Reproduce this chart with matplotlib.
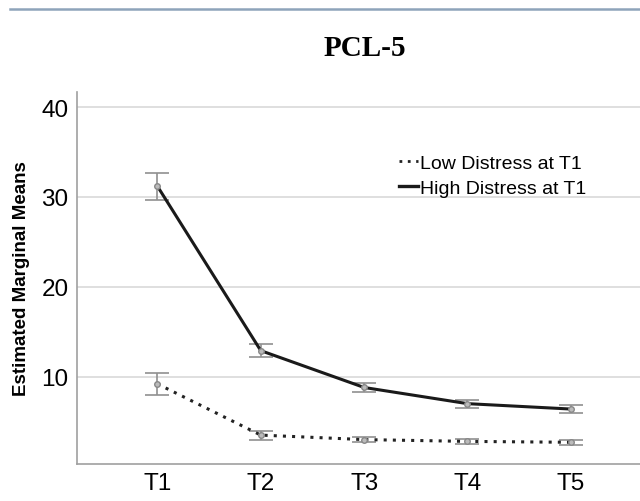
import matplotlib.pyplot as plt
from matplotlib.lines import Line2D

# Data
times = ['T1', 'T2', 'T3', 'T4', 'T5']
low_mean = [9.2, 3.5, 3.0, 2.8, 2.7]
low_err = [1.25, 0.5, 0.3, 0.3, 0.25]
high_mean = [31.2, 12.9, 8.8, 7.0, 6.4]
high_err = [1.5, 0.75, 0.55, 0.45, 0.4]
yticks = [10, 20, 30, 40]

x = list(range(len(times)))

fig = plt.figure(figsize=(6.4, 5.02), dpi=100)
ax = fig.add_axes([0.120, 0.074, 0.885, 0.741])

# thin rule across the top of the page
fig.add_artist(Line2D([0.016, 1.0], [0.980, 0.980], color='#8ea4ba', lw=1.8))

ax.errorbar(x, low_mean, yerr=low_err, color='#222222', lw=2.2,
            linestyle=(0, (1, 2)), ecolor='#909090', elinewidth=1.2,
            capsize=8.5, capthick=1.2, marker='o', markersize=4,
            markerfacecolor='#bbbbbb', markeredgecolor='#888888',
            label='Low Distress at T1', zorder=3)
ax.errorbar(x, high_mean, yerr=high_err, color='#1a1a1a', lw=2.2,
            linestyle='-', ecolor='#909090', elinewidth=1.2,
            capsize=8.5, capthick=1.2, marker='o', markersize=4,
            markerfacecolor='#bbbbbb', markeredgecolor='#888888',
            label='High Distress at T1', zorder=3)

ax.set_xlim(-0.78, 4.70)
ax.set_ylim(0.3, 41.7)
ax.set_xticks(x)
ax.set_xticklabels(times, fontsize=17.5, family='Liberation Sans')
ax.set_yticks(yticks)
ax.set_yticklabels([str(v) for v in yticks], fontsize=17.5, family='Liberation Sans')
ax.tick_params(length=0, pad=6)
ax.grid(axis='y', color='#d9d9d9', lw=1.2)
ax.set_axisbelow(True)
for s in ['top', 'right']:
    ax.spines[s].set_visible(False)
for s in ['left', 'bottom']:
    ax.spines[s].set_color('#a0a0a0')
    ax.spines[s].set_linewidth(1.2)

ax.set_ylabel('Estimated Marginal Means', fontsize=13.5, fontweight='bold',
              family='Liberation Sans', labelpad=8)

fig.text(0.570, 0.904, 'PCL-5', fontsize=21, fontweight='bold',
         family='Liberation Serif', ha='center', va='center')

handles = [Line2D([], [], color='#222222', lw=2, linestyle=(0, (1, 2))),
           Line2D([], [], color='#1a1a1a', lw=2.4)]
ax.legend(handles, ['Low Distress at T1', 'High Distress at T1'],
          loc='upper left', bbox_to_anchor=(0.538, 0.88), frameon=False,
          handlelength=1.0, handletextpad=0.1,
          labelspacing=0.4, prop={'family': 'Liberation Sans', 'size': 14})

fig.savefig('out.png', dpi=100)
